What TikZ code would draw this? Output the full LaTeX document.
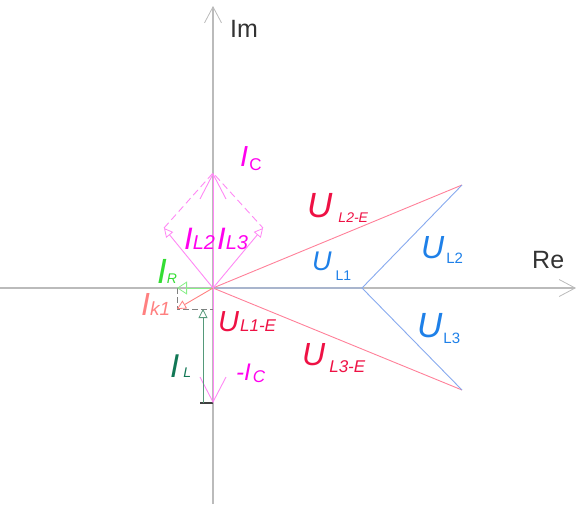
\documentclass[tikz,border=0pt]{standalone}
\usepackage{fontspec}
\setmainfont{Liberation Sans}
\usetikzlibrary{arrows.meta}
\definecolor{magtxt}{HTML}{FF00EE}
\definecolor{magline}{HTML}{FF88F4}
\definecolor{redtxt}{HTML}{EE1144}
\definecolor{redline}{HTML}{FF8099}
\definecolor{bluetxt}{HTML}{1E80E8}
\definecolor{blueline}{HTML}{88AAEE}
\definecolor{greentxt}{HTML}{33DD33}
\definecolor{greenline}{HTML}{88EE88}
\definecolor{darkgreen}{HTML}{117755}
\definecolor{darkgreenline}{HTML}{55997A}
\definecolor{salmon}{HTML}{FF8080}
\definecolor{axisgray}{HTML}{BBBBBB}
\newcommand\phasor[6]{{\fontsize{#1}{#1}\selectfont\itshape #2}\hspace{#6pt}\raisebox{#5pt}{\fontsize{#3}{#3}\selectfont #4}}
\tikzset{
  lbl/.style={inner sep=0pt, anchor=base west},
  axis/.style={draw=axisgray, line width=1.6pt, -{Straight Barb[length=16pt, width=17pt, line width=0.8pt]}},
  bigarrow/.style={draw=magline, line width=0.9pt, -{Straight Barb[length=25pt, width=26pt, line width=0.9pt]}},
  tri/.style={-{Triangle[open, length=9pt, width=9pt, line width=0.8pt]}, line width=0.9pt},
  volt/.style={line width=0.9pt},
  helper/.style={draw=gray, dash pattern=on 6pt off 3pt, line width=0.9pt}
}

\begin{document}
\begin{tikzpicture}[x=1pt, y={(0,-1pt)}]
\useasboundingbox (0,0) rectangle (576,504);

% points
\coordinate (O) at (213,288);
\coordinate (imb) at (213,504);
\coordinate (imt) at (213,6);
\coordinate (reb) at (0,288);
\coordinate (ret) at (576,288);
\coordinate (ic) at (213,173);
\coordinate (mic) at (213,403);
\coordinate (il2) at (164,228);
\coordinate (il3) at (263,228);
\coordinate (ir) at (177,288);
\coordinate (ik) at (177,309);
\coordinate (ilt) at (203,309);
\coordinate (ilb) at (203,403);
\coordinate (ul1) at (362,288);
\coordinate (ul2) at (462,185);
\coordinate (ul3) at (462,390);

% axes
\draw[axis] (imb) -- (imt);
\draw[axis] (reb) -- (ret);
\node[lbl, text=black!80] (im) at (230,37) {\fontsize{25}{25}\selectfont Im};
\node[lbl, text=black!80] (re) at (532,268) {\fontsize{25}{25}\selectfont Re};

% voltages
\draw[volt, draw=redline] (ul2) -- (O) -- (ul3);
\draw[volt, draw=blueline] (O) -- (ul1) -- (ul2);
\draw[volt, draw=blueline] (ul1) -- (ul3);

% currents
\draw[helper] (ir) -- (ik) -- (O |- ik);
\draw[helper, solid, draw=darkgray, line width=1.2pt] (200,403) -- (mic);
\draw[bigarrow] (O) -- (ic);
\draw[bigarrow] (O) -- (mic);
\draw[magline, dash pattern=on 7pt off 4pt, line width=0.9pt] (il2) -- (ic) -- (il3);
\draw[tri, draw=magline] (O) -- (il2);
\draw[tri, draw=magline] (O) -- (il3);
\draw[tri, draw=greenline, -{Triangle[open, length=10pt, width=13pt, line width=0.8pt]}] (O) -- (ir);
\draw[tri, draw=salmon] (O) -- (ik);
\draw[tri, draw=darkgreenline, line width=0.7pt] (ilb) -- (ilt);

% labels
\node[lbl, text=magtxt] (lic) at (240,166) {\phasor{29}{I}{17}{C}{-4}{1}};
\node[lbl, text=magtxt] (lil2) at (184,249) {\phasor{31}{I}{20}{\itshape L2}{0}{0}};
\node[lbl, text=magtxt] (lil3) at (217,249) {\phasor{31}{I}{20}{\itshape L3}{0}{0}};
\node[lbl, text=greentxt] (lir) at (157,283) {\phasor{35}{I}{14}{\itshape R}{0}{0}};
\node[lbl, text=salmon] (lik) at (141,315) {\phasor{32}{I}{19}{\itshape k1}{0}{0}};
\node[lbl, text=redtxt] (lul1e) at (218,331) {\phasor{29}{U}{17}{\itshape L1-E}{0}{1}};
\node[lbl, text=darkgreen] (lil) at (170,377) {\phasor{33}{I}{14}{\itshape L}{0}{4}};
\node[lbl, text=magtxt] (lmic) at (236,380) {\phasor{24}{-I}{17}{\itshape C}{-2}{2}};
\node[lbl, text=redtxt] (lul2e) at (307,217) {\phasor{35}{U}{14}{\itshape L2-E}{-5}{6}};
\node[lbl, text=bluetxt] (lul1) at (312,270) {\phasor{27}{U}{14}{L1}{-10}{4}};
\node[lbl, text=bluetxt] (lul2) at (421,258) {\phasor{32}{U}{15}{L2}{-5}{2}};
\node[lbl, text=bluetxt] (lul3) at (417,337) {\phasor{35}{U}{15}{L3}{-6}{1}};
\node[lbl, text=redtxt] (lul3e) at (302,365) {\phasor{32}{U}{17}{\itshape L3-E}{-7}{4}};

\end{tikzpicture}
\end{document}
